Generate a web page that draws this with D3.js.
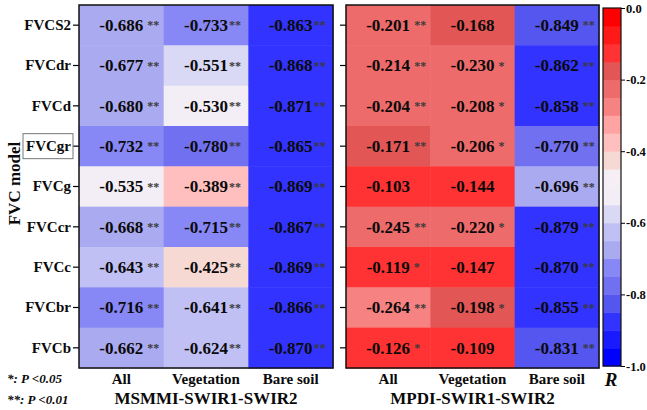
<!DOCTYPE html>
<html>
<head>
<meta charset="utf-8">
<script src="https://d3js.org/d3.v7.min.js"></script>
<style>
  body { margin: 0; background: #fff; }
  text { font-family: "Liberation Serif", "Times New Roman", serif; font-weight: bold; }
</style>
</head>
<body>
<script>
// ---- data ----
var models = ["FVCS2", "FVCdr", "FVCd", "FVCgr", "FVCg", "FVCcr", "FVCc", "FVCbr", "FVCb"];
var groups = ["All", "Vegetation", "Bare soil"];

// MSMMI-SWIR1-SWIR2
var msmmiAll  = [-0.686, -0.677, -0.680, -0.732, -0.535, -0.668, -0.643, -0.716, -0.662];
var msmmiVeg  = [-0.733, -0.551, -0.530, -0.780, -0.389, -0.715, -0.425, -0.641, -0.624];
var msmmiBare = [-0.863, -0.868, -0.871, -0.865, -0.869, -0.867, -0.869, -0.866, -0.870];
var msmmiAllSig  = ["**", "**", "**", "**", "**", "**", "**", "**", "**"];
var msmmiVegSig  = ["**", "**", "**", "**", "**", "**", "**", "**", "**"];
var msmmiBareSig = ["**", "**", "**", "**", "**", "**", "**", "**", "**"];

// MPDI-SWIR1-SWIR2
var mpdiAll  = [-0.201, -0.214, -0.204, -0.171, -0.103, -0.245, -0.119, -0.264, -0.126];
var mpdiVeg  = [-0.168, -0.230, -0.208, -0.206, -0.144, -0.220, -0.147, -0.198, -0.109];
var mpdiBare = [-0.849, -0.862, -0.858, -0.770, -0.696, -0.879, -0.870, -0.855, -0.831];
var mpdiAllSig  = ["**", "**", "**", "**", "", "**", "*", "**", "*"];
var mpdiVegSig  = ["", "*", "*", "*", "", "*", "", "*", ""];
var mpdiBareSig = ["**", "**", "**", "**", "**", "**", "**", "**", "**"];

// colour bins, 0.05 wide, from -1.0 up to 0.0
var binColors = ["#0000ff", "#1a1aff", "#3333ff", "#5555f0", "#7070f0", "#8787f5", "#aaaaf0", "#c0c0f5", "#d9d9f5", "#f3edf5",
                 "#f5eff5", "#f5d9d2", "#ffbfbf", "#ffa3a3", "#f78282", "#ee6b6b", "#e35656", "#ff3333", "#ff1a1a", "#ff0000"];
var barTicks = [0, -0.2, -0.4, -0.6, -0.8, -1.0];

var W = 647, H = 410;
var svg = d3.select("body").append("svg").attr("width", W).attr("height", H);

var thresholds = d3.range(1, 20).map(function(i) { return -1 + i * 0.05; });
var color = d3.scaleThreshold().domain(thresholds).range(binColors);

var yTop = 5, yBottom = 368;
var y = d3.scaleBand().domain(models).range([yTop, yBottom]);

function panel(x0, x1, cols, sigs, title, labels, tightCols) {
  var x = d3.scaleBand().domain(groups).range([x0, x1]);
  var g = svg.append("g");
  var cells = [];
  cols.forEach(function(vals, c) {
    vals.forEach(function(v, r) {
      cells.push({ col: groups[c], row: models[r], v: v, sig: sigs[c][r], tight: tightCols.indexOf(c) >= 0 });
    });
  });

  g.selectAll("rect.cell").data(cells).enter().append("rect")
    .attr("class", "cell")
    .attr("x", function(d) { return x(d.col); })
    .attr("y", function(d) { return y(d.row); })
    .attr("width", x.bandwidth() + 0.5)
    .attr("height", y.bandwidth() + 0.5)
    .attr("fill", function(d) { return color(d.v); });

  var lab = g.selectAll("g.lab").data(cells).enter().append("g").attr("class", "lab");
  lab.append("text")
    .attr("x", function(d) { return x(d.col) + x.bandwidth() / 2; })
    .attr("y", function(d) { return y(d.row) + y.bandwidth() / 2; })
    .attr("dy", "0.35em")
    .attr("text-anchor", "middle")
    .attr("font-size", 17)
    .attr("fill", "#0a0a0a")
    .text(function(d) { return d.v.toFixed(3); })
    .each(function(d) { d.half = this.getComputedTextLength() / 2; });
  lab.append("text")
    .attr("x", function(d) { return x(d.col) + x.bandwidth() / 2 + d.half + (d.tight ? 1 : 4); })
    .attr("y", function(d) { return y(d.row) + y.bandwidth() / 2; })
    .attr("dy", "0.35em")
    .attr("font-size", 12)
    .attr("font-weight", "normal")
    .attr("fill", "#3a3a3a")
    .text(function(d) { return d.sig; });

  // y axis
  var ax = d3.axisLeft(y).tickSize(6).tickPadding(2);
  if (!labels) ax.tickFormat("");
  var ag = svg.append("g").attr("transform", "translate(" + x0 + ",0)").call(ax);
  ag.select(".domain").remove();
  ag.selectAll("line").attr("stroke", "#000").attr("stroke-width", 1.2);
  ag.selectAll("text").attr("font-size", 15).attr("fill", "#0a0a0a")
    .attr("font-family", "Liberation Serif, Times New Roman, serif").attr("font-weight", "bold");

  // border
  svg.append("rect").attr("x", x0).attr("y", yTop).attr("width", x1 - x0).attr("height", yBottom - yTop)
    .attr("fill", "none").attr("stroke", "#111").attr("stroke-width", 1.5);

  // x labels
  svg.selectAll(null).data(groups).enter().append("text")
    .attr("x", function(d) { return x(d) + x.bandwidth() / 2; })
    .attr("y", 384)
    .attr("text-anchor", "middle")
    .attr("font-size", 15)
    .attr("fill", "#0a0a0a")
    .text(function(d) { return d; });

  svg.append("text")
    .attr("x", (x0 + x1) / 2)
    .attr("y", 404)
    .attr("text-anchor", "middle")
    .attr("font-size", 17)
    .attr("fill", "#0a0a0a")
    .text(title);
}

panel(79, 333, [msmmiAll, msmmiVeg, msmmiBare], [msmmiAllSig, msmmiVegSig, msmmiBareSig], "MSMMI-SWIR1-SWIR2", true, [1, 2]);
panel(346, 599, [mpdiAll, mpdiVeg, mpdiBare], [mpdiAllSig, mpdiVegSig, mpdiBareSig], "MPDI-SWIR1-SWIR2", false, []);

// box around FVCgr label
svg.append("rect")
  .attr("x", 23).attr("y", y("FVCgr") + y.bandwidth() / 2 - 12.5)
  .attr("width", 50).attr("height", 25)
  .attr("fill", "none").attr("stroke", "#777").attr("stroke-width", 1);

// y title
svg.append("text")
  .attr("transform", "translate(20," + ((yTop + yBottom) / 2 - 3) + ") rotate(-90)")
  .attr("text-anchor", "middle")
  .attr("font-size", 17)
  .attr("fill", "#0a0a0a")
  .text("FVC model");

// significance notes
svg.append("text").attr("x", 7).attr("y", 383).attr("font-size", 13).attr("font-style", "italic").attr("fill", "#0a0a0a").text("*: P <0.05");
svg.append("text").attr("x", 7).attr("y", 404).attr("font-size", 13).attr("font-style", "italic").attr("fill", "#0a0a0a").text("**: P <0.01");

// colour bar
var cb = d3.scaleLinear().domain([-1, 0]).range([366, 8]);
var bins = d3.range(20).map(function(i) { return -1 + i * 0.05; });
svg.selectAll("rect.bin").data(bins).enter().append("rect")
  .attr("class", "bin")
  .attr("x", 603)
  .attr("y", function(d) { return cb(d + 0.05); })
  .attr("width", 18)
  .attr("height", function(d) { return cb(d) - cb(d + 0.05) + 0.5; })
  .attr("fill", function(d) { return color(d + 0.025); });
svg.append("rect").attr("x", 603).attr("y", 8).attr("width", 18).attr("height", 358)
  .attr("fill", "none").attr("stroke", "#111").attr("stroke-width", 1.2);
var cbAxis = d3.axisRight(cb).tickValues(barTicks).tickSize(4).tickPadding(1)
  .tickFormat(function(d) { return d.toFixed(1); });
var cg = svg.append("g").attr("transform", "translate(621,0)").call(cbAxis);
cg.select(".domain").remove();
cg.selectAll("line").attr("stroke", "#000");
cg.selectAll("text").attr("font-size", 12.5).attr("fill", "#0a0a0a")
  .attr("font-family", "Liberation Serif, Times New Roman, serif").attr("font-weight", "bold");

svg.append("text").attr("x", 611).attr("y", 386).attr("text-anchor", "middle")
  .attr("font-size", 19).attr("font-style", "italic").attr("fill", "#0a0a0a").text("R");
</script>
</body>
</html>
